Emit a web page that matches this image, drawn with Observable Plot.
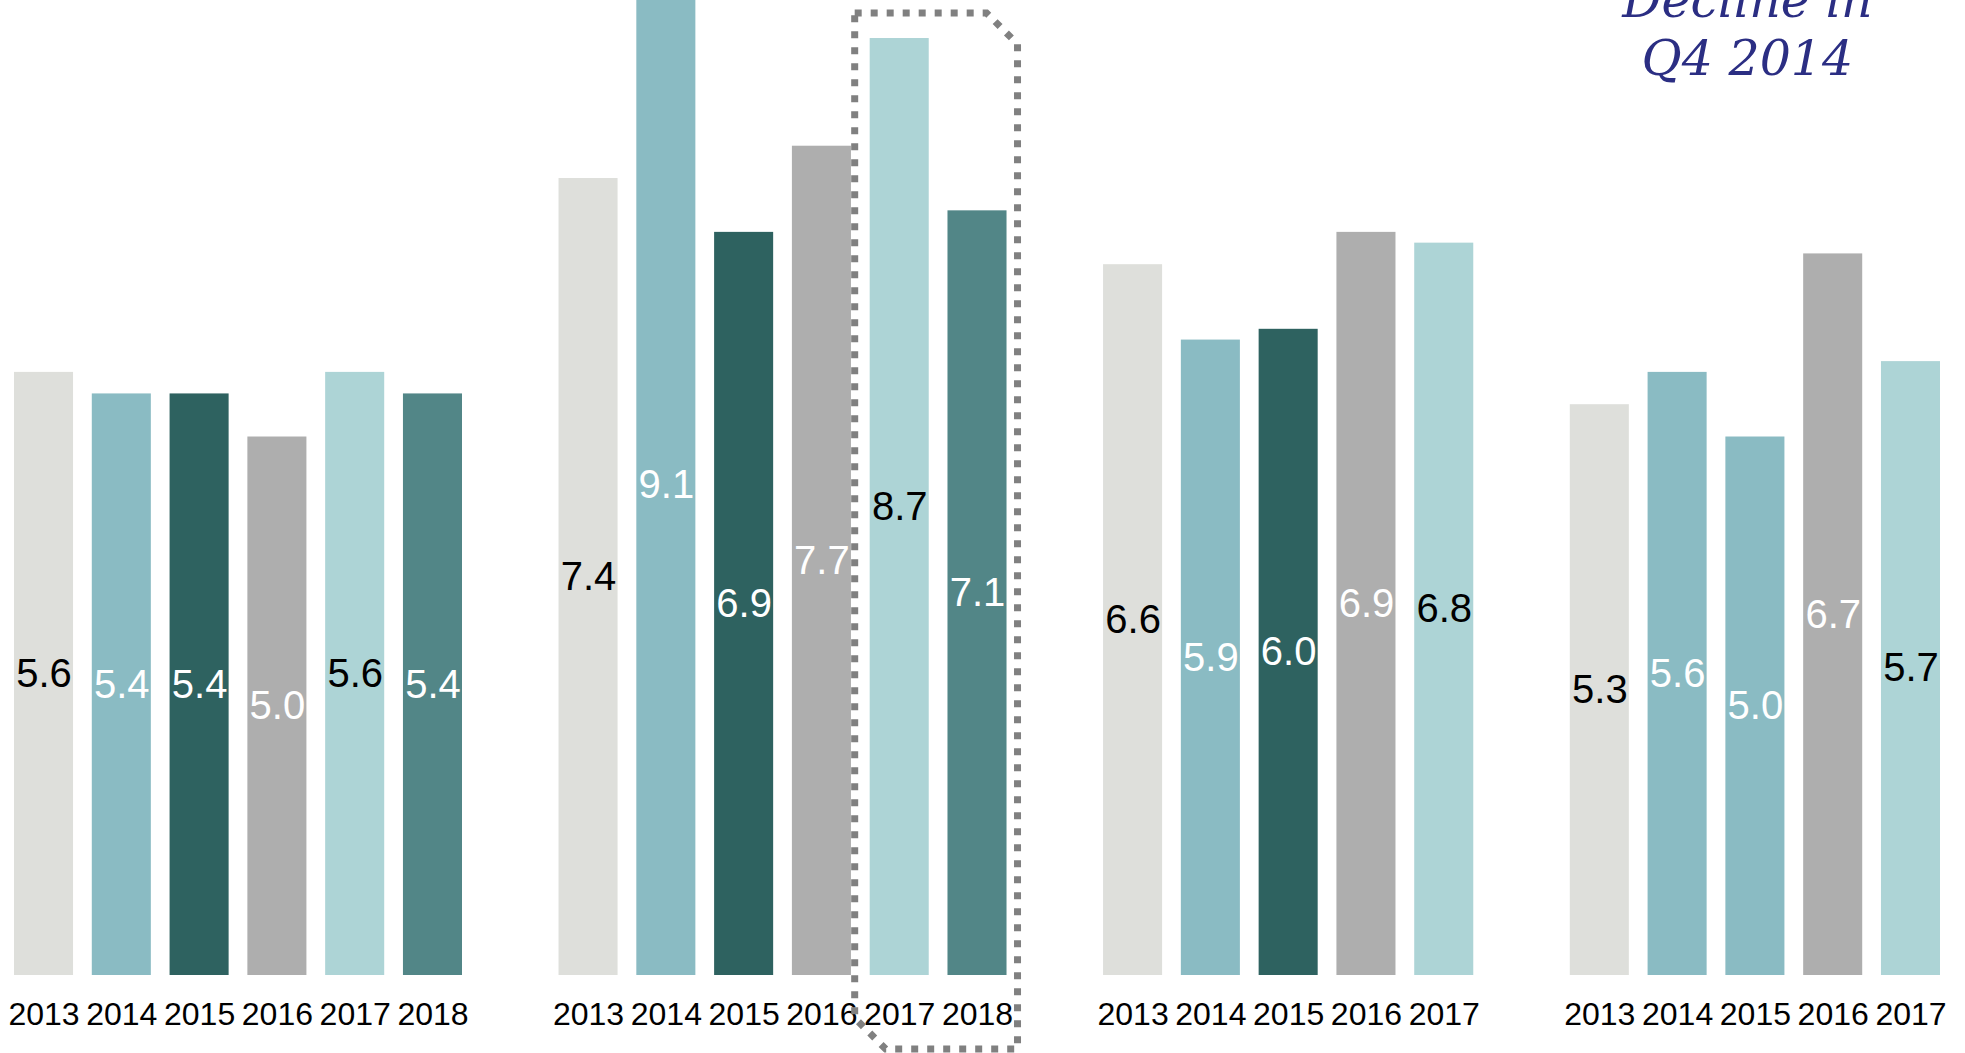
<!DOCTYPE html>
<html>
<head>
<meta charset="utf-8">
<script src="https://cdn.jsdelivr.net/npm/d3@7"></script>
<script src="https://cdn.jsdelivr.net/npm/@observablehq/plot@0.6"></script>
<style>
  html, body { margin: 0; padding: 0; background: #ffffff; }
  #chart svg { display: block; }
</style>
</head>
<body>
<div id="chart"></div>
<script>
// Tick labels along the bottom
const years = ["2013", "2014", "2015", "2016", "2017", "2018"];

// One value series per cluster of bars
const clusterA = [5.6, 5.4, 5.4, 5.0, 5.6, 5.4];
const clusterB = [7.4, 9.1, 6.9, 7.7, 8.7, 7.1];
const clusterC = [6.6, 5.9, 6.0, 6.9, 6.8];
const clusterD = [5.3, 5.6, 5.0, 6.7, 5.7];

// Which year's shade each bar takes (the last cluster repeats the 2014 shade)
const tonesA = ["2013", "2014", "2015", "2016", "2017", "2018"];
const tonesB = ["2013", "2014", "2015", "2016", "2017", "2018"];
const tonesC = ["2013", "2014", "2015", "2016", "2017"];
const tonesD = ["2013", "2014", "2014", "2016", "2017"];

// Annotation text and the bars it calls out
const note = "Decline in\nQ4 2014";
const highlightCluster = 1;
const highlightYears = ["2017", "2018"];

const shades = ["#dedfdb", "#8abbc3", "#2e6260", "#aeaeae", "#add4d6", "#528687"];
const lightTones = new Set(["2013", "2017"]);

const clusters = [
  {values: clusterA, tones: tonesA},
  {values: clusterB, tones: tonesB},
  {values: clusterC, tones: tonesC},
  {values: clusterD, tones: tonesD}
];

// Flatten into rows; a blank slot separates consecutive clusters
const rows = [];
const domain = [];
clusters.forEach((c, gi) => {
  if (gi > 0) domain.push(`${gi}|gap`);
  c.values.forEach((v, i) => {
    const key = `${gi}|${years[i]}`;
    domain.push(key);
    rows.push({key, year: years[i], value: v, tone: c.tones[i]});
  });
});

const keyOf = (gi, year) => `${gi}|${year}`;

// Dotted outline with two snipped corners around the highlighted bars
function highlightBox(index, scales, values, dimensions) {
  const x = scales.x;
  const bw = typeof x.bandwidth === "function" ? x.bandwidth() : (scales.scales?.x?.bandwidth ?? 0);
  const L = x(keyOf(highlightCluster, highlightYears[0])) - 15;
  const R = x(keyOf(highlightCluster, highlightYears[1])) + bw + 11;
  const T = dimensions.marginTop + 13;
  const B = dimensions.height - 4;
  const c = 31;
  const path = d3.path();
  path.moveTo(L, T);
  path.lineTo(R - c, T);
  path.lineTo(R, T + c);
  path.lineTo(R, B);
  path.lineTo(L + c, B);
  path.lineTo(L, B - c);
  path.closePath();
  const g = d3.create("svg:g");
  g.append("path")
    .attr("d", path.toString())
    .attr("fill", "none")
    .attr("stroke", "#808080")
    .attr("stroke-width", 7)
    .attr("stroke-dasharray", "7 9");
  return g.node();
}

const chart = Plot.plot({
  width: 1965,
  height: 1053,
  marginTop: 0,
  marginBottom: 78,
  marginLeft: 14,
  marginRight: 25,
  style: {
    fontFamily: "'Liberation Sans', Arial, sans-serif",
    fontSize: "32px",
    color: "#000000",
    background: "#ffffff"
  },
  x: {
    type: "band",
    domain,
    paddingInner: 0.241,
    paddingOuter: 0,
    round: false,
    tickSize: 0,
    tickPadding: 27,
    tickFormat: (k) => (k.endsWith("gap") ? "" : k.split("|")[1]),
    label: null
  },
  y: {domain: [0, 9.053], axis: null},
  color: {domain: years, range: shades},
  marks: [
    Plot.barY(rows, {x: "key", y: "value", fill: "tone", clip: true}),
    Plot.text(rows, {
      filter: (d) => lightTones.has(d.tone),
      x: "key",
      y: (d) => d.value / 2,
      text: (d) => d.value.toFixed(1),
      fill: "#000000",
      fontSize: 40
    }),
    Plot.text(rows, {
      filter: (d) => !lightTones.has(d.tone),
      x: "key",
      y: (d) => d.value / 2,
      text: (d) => d.value.toFixed(1),
      fill: "#ffffff",
      fontSize: 40
    }),
    highlightBox,
    Plot.text([note], {
      x: [keyOf(3, "2015")],
      text: (d) => d,
      frameAnchor: "top",
      lineAnchor: "top",
      lineHeight: 1.19,
      dx: -8,
      dy: -25,
      fill: "#2b2e83",
      fontSize: 49,
      fontStyle: "italic",
      fontFamily: "'DejaVu Serif', serif"
    })
  ]
});

document.getElementById("chart").append(chart);
</script>
</body>
</html>
